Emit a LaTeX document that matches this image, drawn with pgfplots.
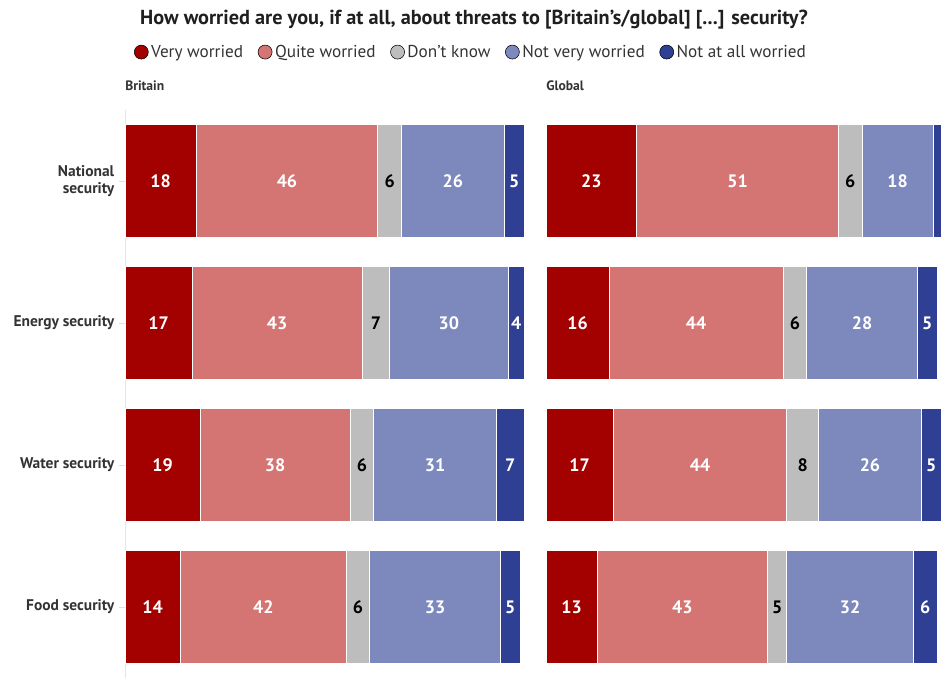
\documentclass[border=0pt]{standalone}
\usepackage{pgfplots}
\pgfplotsset{compat=1.18}
\usepackage{pgfplotstable}
\usepackage{fontspec}
\setmainfont{PT Sans}
\definecolor{c1}{HTML}{A30000}
\definecolor{c2}{HTML}{D57573}
\definecolor{c3}{HTML}{BDBDBD}
\definecolor{c4}{HTML}{7D89BD}
\definecolor{c5}{HTML}{2F3F94}
\definecolor{txt}{HTML}{333333}

\pgfplotstableread{
cat v1 v2 v3 v4 v5 l5
0 18 46 6 26 5 5
1 17 43 7 30 4 4
2 19 38 6 31 7 7
3 14 42 6 33 5 5
}\britaindata
\pgfplotstableread{
cat v1 v2 v3 v4 v5 l5
0 23 51 6 18 2 {}
1 16 44 6 28 5 5
2 17 44 8 26 5 5
3 13 43 5 32 6 6
}\globaldata

\pgfplotsset{
  panel/.style={
    xbar stacked, bar width=0.8,
    scale only axis, width=299.25pt, height=426pt,
    xmin=0, xmax=101, ymin=-0.5, ymax=3.5, y dir=reverse,
    xtick=\empty, axis x line=none,
    clip=false,
    nodes near coords, point meta=explicit symbolic,
    nodes near coords align={center},
    every node near coord/.append style={font=\fontsize{13.5}{15}\selectfont\bfseries, anchor=center},
  },
}
% #1 table, #2 value column, #3 colour, #4 label column, #5 label colour
\newcommand\seg[5]{%
  \addplot[fill=#3, draw=white, line width=0.75pt,
    every node near coord/.append style={text=#5}]
    table[x=#2, y=cat, meta=#4]{#1};}

\begin{document}
\begin{tikzpicture}
\begin{axis}[panel, at={(243.375pt,225pt)}, anchor=center,
  axis y line*=left,
  y axis line style={draw=black!10, line width=0.75pt},
  ytick={0,1,2,3},
  yticklabels={{National\\security},{Energy security},{Water security},{Food security}},
  yticklabel style={font=\fontsize{11.6}{12.5}\selectfont\bfseries, text=txt, align=right},
  major tick length=4.5pt, tick align=outside,
  tick style={draw=black!12, line width=0.75pt},
  legend image code/.code={\fill[#1] (0pt,0pt) circle (5.25pt);},
  legend style={at={(axis description cs:0.868,1.102)}, anchor=center, draw=none, fill=none,
    legend columns=-1, font=\fontsize{12.9}{15}\selectfont, text=txt,
    /tikz/every even column/.append style={column sep=9pt}},
  legend cell align=left,
]
\addlegendimage{fill=c1}
\addlegendimage{fill=c2}
\addlegendimage{fill=c3}
\addlegendimage{fill=c4}
\addlegendimage{fill=c5}
\legend{Very worried, Quite worried, Don’t know, Not very worried, Not at all worried}
\seg{\britaindata}{v1}{c1}{v1}{white}
\seg{\britaindata}{v2}{c2}{v2}{white}
\seg{\britaindata}{v3}{c3}{v3}{black}
\seg{\britaindata}{v4}{c4}{v4}{white}
\seg{\britaindata}{v5}{c5}{l5}{white}
\end{axis}
\begin{axis}[panel, at={(559.125pt,225pt)}, anchor=center,
  axis y line=none, ytick=\empty,
]
\seg{\globaldata}{v1}{c1}{v1}{white}
\seg{\globaldata}{v2}{c2}{v2}{white}
\seg{\globaldata}{v3}{c3}{v3}{black}
\seg{\globaldata}{v4}{c4}{v4}{white}
\seg{\globaldata}{v5}{c5}{l5}{white}
\end{axis}
\node[font=\fontsize{15.2}{18}\selectfont\bfseries, text=black!88] at (355.5pt,506pt) {How worried are you, if at all, about threats to [Britain's/global] [...] security?};
\node[anchor=west, inner sep=0pt, font=\fontsize{10.2}{12}\selectfont\bfseries, text=txt] at (93.75pt,456pt) {Britain};
\node[anchor=west, inner sep=0pt, font=\fontsize{10.2}{12}\selectfont\bfseries, text=txt] at (409.5pt,456pt) {Global};
\pgfresetboundingbox
\useasboundingbox (0,0) rectangle (705.75pt,520.5pt);
\end{tikzpicture}
\end{document}
